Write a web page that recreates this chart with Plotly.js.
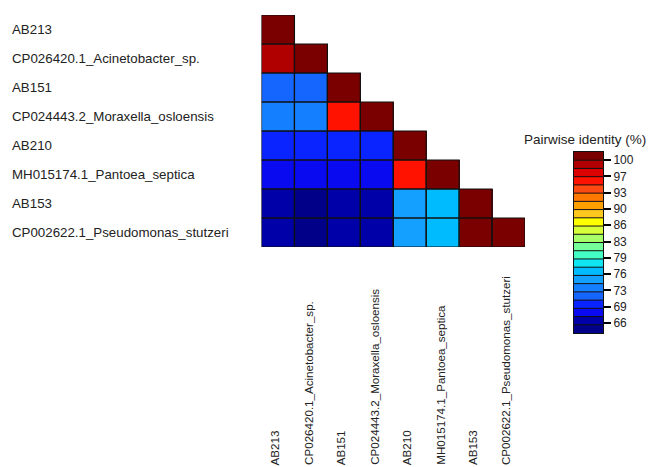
<!DOCTYPE html>
<html>
<head>
<meta charset="utf-8">
<script src="https://cdn.plot.ly/plotly-3.0.1.min.js"></script>
<style>
  html, body { margin: 0; padding: 0; background: #fff; }
  #chart { width: 648px; height: 467px; }
</style>
</head>
<body>
<div id="chart"></div>
<script>
// Sequence names, in matrix order (top row / left column first)
const sequences = [
  "AB213",
  "CP026420.1_Acinetobacter_sp.",
  "AB151",
  "CP024443.2_Moraxella_osloensis",
  "AB210",
  "MH015174.1_Pantoea_septica",
  "AB153",
  "CP002622.1_Pseudomonas_stutzeri"
];

// Pairwise identity (%), lower triangle, one row per sequence
const rowAB213    = [100];
const rowCP026420 = [99.0, 100];
const rowAB151    = [72.0, 72.2, 100];
const rowCP024443 = [73.4, 73.5, 95.6, 100];
const rowAB210    = [69.6, 69.8, 69.5, 69.3, 100];
const rowMH015174 = [68.6, 68.5, 68.7, 68.4, 95.8, 100];
const rowAB153    = [66.2, 65.2, 66.5, 66.0, 75.0, 76.6, 100];
const rowCP002622 = [66.1, 65.1, 66.4, 66.0, 74.9, 76.5, 100, 100];
const identity = [rowAB213, rowCP026420, rowAB151, rowCP024443,
                  rowAB210, rowMH015174, rowAB153, rowCP002622];

// Colour key: 22 equal bands, lowest to highest
const bandColors = [
  "#000088", "#0000a8", "#0a0af0", "#0a24ff", "#1466ff", "#1480ff",
  "#14a0ff", "#00bcff", "#10e6f2", "#44ffc4", "#74ff9a", "#a6ff68",
  "#d6ff3a", "#ffff00", "#ffc81e", "#ffa000", "#ff7800", "#ff4a12",
  "#ff1200", "#dc0000", "#b00000", "#7a0000"
];
const scaleMin = 63.7;
const scaleMax = 101.7;
const tickValues = [100, 96.58, 93.16, 89.74, 86.32, 82.9, 79.48, 76.06, 72.64, 69.22, 65.8];
const tickLabels = ["100", "97", "93", "90", "86", "83", "79", "76", "73", "69", "66"];

const FONT = "Liberation Sans, Arial, sans-serif";
const TEXT = "#222";
const W = 648, H = 467;

const n = sequences.length;
const idx = sequences.map((_, i) => i);

// Full matrix with the upper triangle left empty
const z = idx.map(r => idx.map(c => (c <= r ? identity[r][c] : null)));

// Stepped colour scale
const nb = bandColors.length;
const colorscale = [];
bandColors.forEach((c, i) => {
  colorscale.push([i / nb, c]);
  colorscale.push([(i + 1) / nb, c]);
});

// Cell outlines for the lower triangle
const ox = [], oy = [];
idx.forEach(r => {
  idx.forEach(c => {
    if (c <= r) {
      ox.push(c - 0.5, c + 0.5, c + 0.5, c - 0.5, c - 0.5, null);
      oy.push(r - 0.5, r - 0.5, r + 0.5, r + 0.5, r - 0.5, null);
    }
  });
});

// Key bands
const step = (scaleMax - scaleMin) / nb;
const bandCenters = bandColors.map((_, i) => scaleMin + (i + 0.5) * step);
const kx = [], ky = [];
for (let i = 1; i < nb; i++) {
  const e = scaleMin + i * step;
  kx.push(0, 1, null);
  ky.push(e, e, null);
}

const traces = [
  {
    type: "heatmap",
    x: idx, y: idx, z: z,
    colorscale: colorscale, zmin: scaleMin, zmax: scaleMax,
    showscale: false, hoverinfo: "skip"
  },
  {
    type: "scatter", mode: "lines",
    x: ox, y: oy,
    line: { color: "#111", width: 1.2 },
    hoverinfo: "skip", showlegend: false
  },
  {
    type: "heatmap", xaxis: "x2", yaxis: "y2",
    x: [0.5], y: bandCenters, z: bandCenters.map(v => [v]),
    colorscale: colorscale, zmin: scaleMin, zmax: scaleMax,
    showscale: false, hoverinfo: "skip"
  },
  {
    type: "scatter", mode: "lines", xaxis: "x2", yaxis: "y2",
    x: kx, y: ky,
    line: { color: "#111", width: 1 },
    hoverinfo: "skip", showlegend: false
  }
];

const annotations = [];
// Row names on the left
sequences.forEach((s, r) => {
  annotations.push({
    xref: "paper", yref: "y", x: 10 / W, y: r,
    xanchor: "left", yanchor: "middle",
    text: s, showarrow: false,
    font: { family: FONT, size: 13.3, color: TEXT }
  });
});
// Column names, vertical, along the bottom
sequences.forEach((s, c) => {
  annotations.push({
    xref: "x", yref: "paper", x: c, y: 0,
    xanchor: "center", yanchor: "bottom", xshift: -3,
    textangle: -90,
    text: s, showarrow: false,
    font: { family: FONT, size: 11.6, color: TEXT }
  });
});
// Key title
annotations.push({
  xref: "paper", yref: "paper", x: 585 / W, y: (H - 139) / H,
  xanchor: "center", yanchor: "middle",
  text: "Pairwise identity (%)", showarrow: false,
  font: { family: FONT, size: 13.5, color: TEXT }
});

const hidden = { visible: false, showgrid: false, zeroline: false, fixedrange: true };

const layout = {
  width: W, height: H,
  margin: { l: 0, r: 0, t: 0, b: 0, pad: 0 },
  paper_bgcolor: "#fff", plot_bgcolor: "rgba(0,0,0,0)",
  showlegend: false,
  font: { family: FONT, color: TEXT },
  xaxis: Object.assign({}, hidden, {
    domain: [261.5 / W, 525 / W], range: [-0.5, n - 0.5]
  }),
  yaxis: Object.assign({}, hidden, {
    domain: [(H - 247) / H, (H - 15) / H], range: [n - 0.5, -0.5]
  }),
  xaxis2: {
    anchor: "y2", domain: [574 / W, 603 / W], range: [0, 1],
    showgrid: false, zeroline: false, showticklabels: false, ticks: "",
    showline: true, mirror: true, linecolor: "#111", linewidth: 1, fixedrange: true
  },
  yaxis2: {
    anchor: "x2", side: "right",
    domain: [(H - 333) / H, (H - 152) / H], range: [scaleMin, scaleMax],
    tickmode: "array", tickvals: tickValues, ticktext: tickLabels,
    ticks: "outside", ticklen: 7, tickwidth: 2, tickcolor: "#000",
    tickfont: { family: FONT, size: 12, color: TEXT },
    showgrid: false, zeroline: false,
    showline: true, mirror: true, linecolor: "#111", linewidth: 1, fixedrange: true
  },
  annotations: annotations
};

Plotly.newPlot("chart", traces, layout, { staticPlot: true, displayModeBar: false });
</script>
</body>
</html>
